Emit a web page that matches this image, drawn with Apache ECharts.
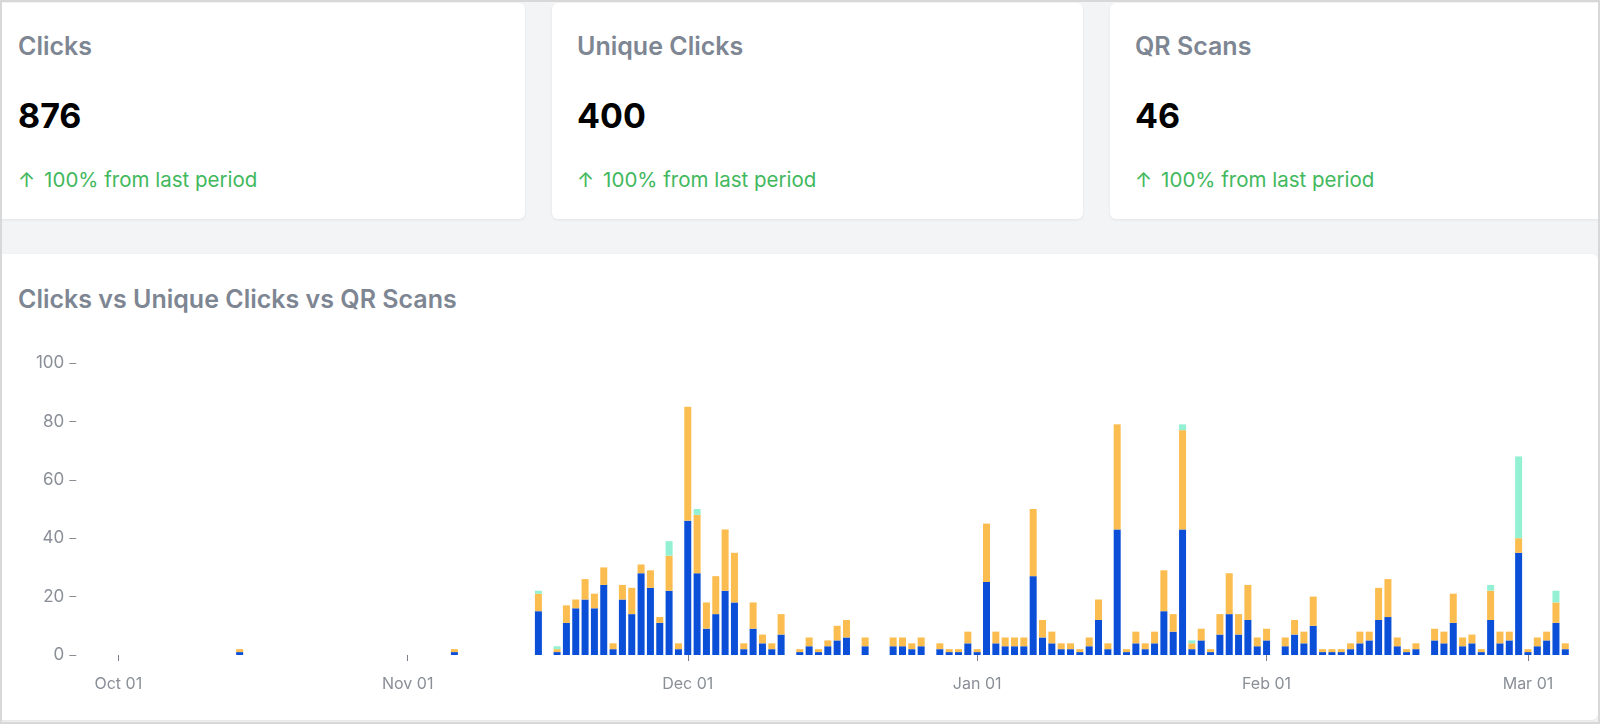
<!DOCTYPE html>
<html>
<head>
<meta charset="utf-8">
<script src="https://cdn.jsdelivr.net/npm/echarts@6/dist/echarts.min.js"></script>
<style>
html,body{margin:0;padding:0;}
body{width:1600px;height:724px;overflow:hidden;background:#f2f4f6;font-family:Inter,"Noto Sans",sans-serif;position:relative;}
#frame{position:absolute;left:0;top:0;width:1600px;height:724px;box-sizing:border-box;border:2px solid #d8d8d8;pointer-events:none;z-index:20;}
.card{position:absolute;background:#fff;border-radius:6px;box-shadow:0 1px 3px rgba(0,0,0,0.07);}
.kpi{top:3px;height:216px;}
.k-title{position:absolute;left:25px;top:28px;font-size:25px;line-height:30px;font-weight:600;color:#7d8692;white-space:nowrap;}
.k-value{position:absolute;left:25px;top:93px;font-size:34px;line-height:40px;font-weight:700;color:#000;white-space:nowrap;}
.k-delta{position:absolute;left:25px;top:165px;font-size:20.5px;line-height:24px;font-weight:400;color:#42b85d;white-space:nowrap;}
.k-delta .arr{display:inline-block;margin-right:9px;}
#chartCard{left:-7px;top:254px;width:1605px;height:466px;}
#chartTitle{position:absolute;left:25px;top:30px;font-size:25px;line-height:30px;font-weight:600;color:#7d8692;white-space:nowrap;}
#chart{position:absolute;left:0;top:254px;width:1600px;height:466px;z-index:5;}
</style>
</head>
<body>
<div id="frame"></div>

<div class="card kpi" style="left:-7px;width:532px;">
  <div class="k-title">Clicks</div>
  <div class="k-value">876</div>
  <div class="k-delta"><span class="arr">↑</span>100% from last period</div>
</div>
<div class="card kpi" style="left:552px;width:531px;">
  <div class="k-title">Unique Clicks</div>
  <div class="k-value">400</div>
  <div class="k-delta"><span class="arr">↑</span>100% from last period</div>
</div>
<div class="card kpi" style="left:1110px;width:531px;">
  <div class="k-title">QR Scans</div>
  <div class="k-value">46</div>
  <div class="k-delta"><span class="arr">↑</span>100% from last period</div>
</div>

<div class="card" id="chartCard">
  <div id="chartTitle">Clicks vs Unique Clicks vs QR Scans</div>
</div>
<div id="chart"></div>

<script>
// ---- data ----
const axisStart = '2022-09-27';
const axisEnd = '2023-03-06';
const dates = [
  '2022-10-14','2022-11-06','2022-11-15','2022-11-17','2022-11-18','2022-11-19','2022-11-20','2022-11-21',
  '2022-11-22','2022-11-23','2022-11-24','2022-11-25','2022-11-26','2022-11-27','2022-11-28','2022-11-29',
  '2022-11-30','2022-12-01','2022-12-02','2022-12-03','2022-12-04','2022-12-05','2022-12-06','2022-12-07',
  '2022-12-08','2022-12-09','2022-12-10','2022-12-11','2022-12-13','2022-12-14','2022-12-15','2022-12-16',
  '2022-12-17','2022-12-18','2022-12-20','2022-12-23','2022-12-24','2022-12-25','2022-12-26','2022-12-28',
  '2022-12-29','2022-12-30','2022-12-31','2023-01-01','2023-01-02','2023-01-03','2023-01-04','2023-01-05',
  '2023-01-06','2023-01-07','2023-01-08','2023-01-09','2023-01-10','2023-01-11','2023-01-12','2023-01-13',
  '2023-01-14','2023-01-15','2023-01-16','2023-01-17','2023-01-18','2023-01-19','2023-01-20','2023-01-21',
  '2023-01-22','2023-01-23','2023-01-24','2023-01-25','2023-01-26','2023-01-27','2023-01-28','2023-01-29',
  '2023-01-30','2023-01-31','2023-02-01','2023-02-03','2023-02-04','2023-02-05','2023-02-06','2023-02-07',
  '2023-02-08','2023-02-09','2023-02-10','2023-02-11','2023-02-12','2023-02-13','2023-02-14','2023-02-15',
  '2023-02-16','2023-02-17','2023-02-19','2023-02-20','2023-02-21','2023-02-22','2023-02-23','2023-02-24',
  '2023-02-25','2023-02-26','2023-02-27','2023-02-28','2023-03-01','2023-03-02','2023-03-03','2023-03-04',
  '2023-03-05'
];
const clicks = [
  1,1,15,1,11,16,19,16,
  24,2,19,14,28,23,11,22,
  2,46,28,9,14,22,18,2,
  9,4,2,7,1,3,1,3,
  5,6,3,3,3,2,3,2,
  1,1,4,1,25,4,3,3,
  3,27,6,4,2,2,1,3,
  12,2,43,1,4,2,4,15,
  8,43,2,5,1,7,14,7,
  12,3,5,3,7,4,10,1,
  1,1,2,4,5,12,13,3,
  1,2,5,4,11,3,4,1,
  12,4,5,35,1,3,5,11,
  2
];
const uniqueClicks = [
  1,1,6,1,6,3,7,5,
  6,2,5,9,3,6,2,12,
  2,39,20,9,13,21,17,2,
  9,3,2,7,1,3,1,2,
  5,6,3,3,3,2,3,2,
  1,1,4,1,20,4,3,3,
  3,23,6,4,2,2,1,3,
  7,2,36,1,4,2,4,14,
  6,34,2,4,1,7,14,7,
  12,3,4,3,5,4,10,1,
  1,1,2,4,3,11,13,3,
  1,2,4,4,10,3,3,1,
  10,4,3,5,1,3,3,7,
  2
];
const qrScans = [
  0,0,1,1,0,0,0,0,
  0,0,0,0,0,0,0,5,
  0,0,2,0,0,0,0,0,
  0,0,0,0,0,0,0,0,
  0,0,0,0,0,0,0,0,
  0,0,0,0,0,0,0,0,
  0,0,0,0,0,0,0,0,
  0,0,0,0,0,0,0,0,
  0,2,1,0,0,0,0,0,
  0,0,0,0,0,0,0,0,
  0,0,0,0,0,0,0,0,
  0,0,0,0,0,0,0,0,
  2,0,0,28,0,0,0,4,
  0
];
const tickDates = ['2022-10-01','2022-11-01','2022-12-01','2023-01-01','2023-02-01','2023-03-01'];
const tickLabels = ['Oct 01','Nov 01','Dec 01','Jan 01','Feb 01','Mar 01'];
const yTicks = [0, 20, 40, 60, 80, 100];

// ---- build the daily category axis (one category per calendar day) ----
const DAY = 86400000;
function ts(s) { const p = s.split('-').map(Number); return Date.UTC(p[0], p[1] - 1, p[2]); }
function iso(t) { return new Date(t).toISOString().slice(0, 10); }
const days = [];
for (let t = ts(axisStart); t <= ts(axisEnd); t += DAY) days.push(iso(t));
const fill = arr => days.map(d => { const i = dates.indexOf(d); return i >= 0 ? arr[i] : 0; });
const isTick = (idx, val) => tickDates.indexOf(val) >= 0;

const chart = echarts.init(document.getElementById('chart'), null, { renderer: 'canvas' });
const labelColor = '#8a8f97';
const option = {
  animation: false,
  grid: { left: 76.3, right: 20.7, top: 109, height: 292, containLabel: false },
  xAxis: {
    type: 'category',
    data: days,
    boundaryGap: true,
    offset: 2,
    axisLine: { show: false },
    splitLine: { show: false },
    axisTick: { show: true, alignWithLabel: true, interval: isTick, length: 6, lineStyle: { color: '#7c8088' } },
    axisLabel: {
      interval: isTick,
      margin: 19,
      color: labelColor,
      fontFamily: 'Inter',
      fontSize: 16,
      formatter: function (v) {
        const i = tickDates.indexOf(v);
        return i >= 0 ? tickLabels[i] : '';
      }
    }
  },
  yAxis: {
    type: 'value',
    min: yTicks[0],
    max: yTicks[yTicks.length - 1],
    interval: 20,
    axisLine: { show: false },
    splitLine: { show: false },
    axisTick: { show: true, length: 7, lineStyle: { color: '#8a8f96' } },
    axisLabel: { margin: 12, color: labelColor, fontFamily: 'Inter', fontSize: 17 }
  },
  series: [
    { name: 'Clicks', type: 'bar', stack: 'total', barWidth: 7, data: fill(clicks), itemStyle: { color: '#0b4fd8' } },
    { name: 'Unique Clicks', type: 'bar', stack: 'total', barWidth: 7, data: fill(uniqueClicks), itemStyle: { color: '#fbbd4f' } },
    { name: 'QR Scans', type: 'bar', stack: 'total', barWidth: 7, data: fill(qrScans), itemStyle: { color: '#93f0d3' } }
  ]
};
chart.setOption(option);
</script>
</body>
</html>
